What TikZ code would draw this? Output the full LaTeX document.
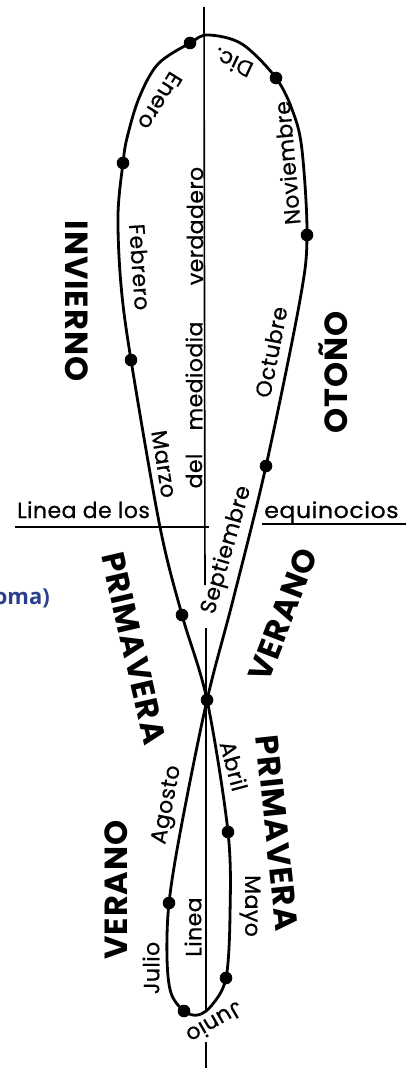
\documentclass[tikz,border=0pt]{standalone}
\usepackage{fontspec}
\setmainfont{Poppins}
\newfontfamily\labfont{Poppins}[LetterSpace=2,FakeBold=0.6]
\newfontfamily\seasonfont{Poppins}[LetterSpace=3]
\newfontfamily\bluefont{Open Sans}
\definecolor{inkblue}{RGB}{45,62,140}
\begin{document}
\begin{tikzpicture}[x=1pt,y=-1pt,
  curve/.style={line width=2.8pt, line join=round},
  axisline/.style={line width=1.6pt},
  thinaxis/.style={line width=1.1pt},
  eqline/.style={line width=2pt},
  dotm/.style={fill=black},
  lbl/.style={font=\labfont\fontsize{22}{22}\selectfont, inner sep=0pt},
  season/.style={font=\seasonfont\bfseries\fontsize{32}{32}\selectfont, inner sep=0pt}]
\useasboundingbox (0,0) rectangle (406,1068);
\fill[white] (0,0) rectangle (406,1068);

% axis of true noon
\coordinate (ax1) at (204,7);
\coordinate (ax2) at (205,585);
\coordinate (ax3) at (206,628);
\coordinate (ax4) at (206,1010);
\coordinate (ax5) at (206,1042);
\coordinate (ax6) at (206,1068);
\draw[axisline] (ax1) -- (ax2);
\draw[thinaxis] (ax3) -- (ax4);
\draw[thinaxis] (ax5) -- (ax6);

% line of equinoxes
\coordinate (eq1) at (15,527);
\coordinate (eq2) at (209,527);
\coordinate (eq3) at (262,524);
\coordinate (eq4) at (406,524);
\draw[eqline] (eq1) -- (eq2);
\draw[eqline] (eq3) -- (eq4);

% month dots
\coordinate (m1) at (190,43);
\coordinate (m2) at (123,163);
\coordinate (m3) at (131,360);
\coordinate (m4) at (182,615);
\coordinate (mx) at (207,700);
\coordinate (m5) at (228,832);
\coordinate (m6) at (226,978);
\coordinate (m7) at (184,1011);
\coordinate (m8) at (169,903);
\coordinate (m10) at (266,466);
\coordinate (m11) at (307,235);
\coordinate (m12) at (276,78);

\draw[curve] plot[smooth cycle, tension=0.55] coordinates {
  (208,35) (m1) (158,64) (139,98) (127,138) (m2) (118,215) (121,285) (m3)
  (160,527) (m4) (mx) (m5) (230,915) (m6) (212,1005) (198,1015) (m7)
  (171,993) (167,958) (m8) (181,828) (mx) (233,600) (m10) (300,300) (m11)
  (302,150) (293,112) (m12) (242,44)};

\foreach \p in {m1,m2,m3,m4,mx,m5,m6,m7,m8,m10,m11,m12}
  \fill[dotm] (\p) circle[radius=6.3pt];

% month labels
\node[lbl, rotate=155] (dic) at (233,63) {Dic.};
\node[lbl, rotate=-122] (ene) at (160,101) {Enero};
\node[lbl, rotate=95] (nov) at (287,163) {Noviembre};
\node[lbl, rotate=90] (ver) at (195,226) {verdadero};
\node[lbl, rotate=90] (med) at (194,376) {mediodia};
\node[lbl, rotate=90] (del) at (194,471) {del};
\node[lbl, rotate=-86] (feb) at (140,267) {Febrero};
\node[lbl, rotate=-81] (mar) at (164,464) {Marzo};
\node[lbl, rotate=79] (oct) at (271,352) {Octubre};
\node[lbl, rotate=74] (sep) at (227,550) {Septiembre};
\node[lbl, rotate=-75] (abr) at (234,766) {Abril};
\node[lbl, rotate=79] (ago) at (168,805) {Agosto};
\node[lbl, rotate=-90] (may) at (250,906) {Mayo};
\node[lbl, rotate=90] (lin) at (193,927) {Linea};
\node[lbl, rotate=90] (jul) at (151,968) {Julio};
\node[lbl, rotate=210] (jun) at (215,1023) {Junio};
\node[lbl, anchor=base west] (eqa) at (17,518) {Linea de los};
\node[lbl, anchor=base west, xscale=1.08] (eqb) at (264,518) {equinocios};

% seasons
\node[season, rotate=-90] (inv) at (77,301) {INVIERNO};
\node[season, rotate=90] (oto) at (333,372) {OTOÑO};
\node[season, rotate=-77] (pri1) at (134,648) {PRIMAVERA};
\node[season, rotate=69] (ver1) at (283,615) {VERANO};
\node[season, rotate=-84] (pri2) at (277,833) {PRIMAVERA};
\node[season, rotate=90] (ver2) at (116,890) {VERANO};

% cut-off caption fragment at left edge
\node[font=\bluefont\bfseries\fontsize{22}{22}\selectfont, text=inkblue, anchor=base east, inner sep=0pt] (frag) at (50,604) {oma)};
\end{tikzpicture}
\end{document}
